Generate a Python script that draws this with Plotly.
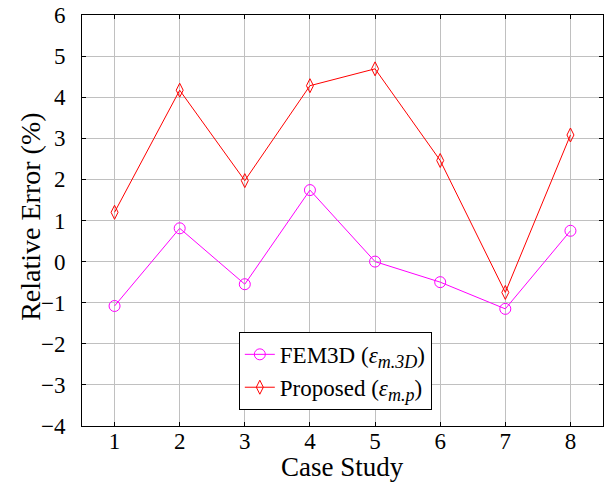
import plotly.graph_objects as go

cases = [1, 2, 3, 4, 5, 6, 7, 8]
fem3d = [-1.08, 0.81, -0.55, 1.74, 0.0, -0.5, -1.15, 0.75]
proposed = [1.2, 4.17, 1.97, 4.28, 4.69, 2.46, -0.75, 3.08]
y_ticks = [-4, -3, -2, -1, 0, 1, 2, 3, 4, 5, 6]
y_tick_text = ["\u22124", "\u22123", "\u22122", "\u22121", "0", "1", "2", "3", "4", "5", "6"]
x_title = "Case Study"
y_title = "Relative Error (%)"

FONT = "Liberation Serif"
SUB = "<sub><span style='font-size:18px'><i>{}</i></span></sub>"

fig = go.Figure()
fig.add_trace(go.Scatter(
    x=cases, y=fem3d, mode="lines+markers",
    name="FEM3D (<i>\u03b5</i>" + SUB.format("m.3D") + ")",
    line=dict(color="#ff00ff", width=1),
    marker=dict(symbol="circle-open", size=11, color="#ff00ff", line=dict(width=1)),
))
fig.add_trace(go.Scatter(
    x=cases, y=proposed, mode="lines+markers",
    name="Proposed (<i>\u03b5</i>" + SUB.format("m.p") + ")",
    line=dict(color="#ff0000", width=1),
    marker=dict(symbol="diamond-tall-open", size=10, color="#ff0000", line=dict(width=1)),
))

fig.update_layout(
    width=616, height=483,
    margin=dict(l=82, r=13, t=15, b=57, autoexpand=False),
    paper_bgcolor="white", plot_bgcolor="white",
    font=dict(family=FONT, size=23, color="black"),
    showlegend=True,
    legend=dict(
        x=0.301, y=0.229, xanchor="left", yanchor="top",
        bgcolor="white", bordercolor="black", borderwidth=1,
        font=dict(family=FONT, size=23),
        tracegroupgap=0, itemwidth=30,
    ),
    annotations=[
        dict(text=x_title, xref="paper", yref="paper", x=0.5, y=-0.099,
             xanchor="center", yanchor="middle", showarrow=False,
             font=dict(family=FONT, size=27)),
        dict(text=y_title, xref="paper", yref="paper", x=-0.099, y=0.51,
             xanchor="center", yanchor="middle", showarrow=False, textangle=-90,
             font=dict(family=FONT, size=28)),
    ],
)
fig.update_xaxes(
    range=[0.5, 8.5], tickvals=cases, ticktext=[str(c) for c in cases],
    showgrid=True, gridcolor="#c0c0c0", gridwidth=1,
    showline=True, linecolor="black", linewidth=1, mirror="ticks",
    ticks="inside", ticklen=4, tickcolor="black",
    zeroline=False, automargin=False, ticklabelstandoff=-6,
    ticklabeloverflow="allow",
    tickfont=dict(family=FONT, size=23),
)
fig.update_yaxes(
    range=[-4, 6], tickvals=y_ticks, ticktext=y_tick_text,
    showgrid=True, gridcolor="#c0c0c0", gridwidth=1,
    showline=True, linecolor="black", linewidth=1, mirror="ticks",
    ticks="inside", ticklen=4, tickcolor="black",
    zeroline=False, automargin=False, ticklabelstandoff=11,
    ticklabeloverflow="allow",
    tickfont=dict(family=FONT, size=23),
)

fig.write_html("out.html", config={"displayModeBar": False},
               post_script="document.body.style.margin='0';")
